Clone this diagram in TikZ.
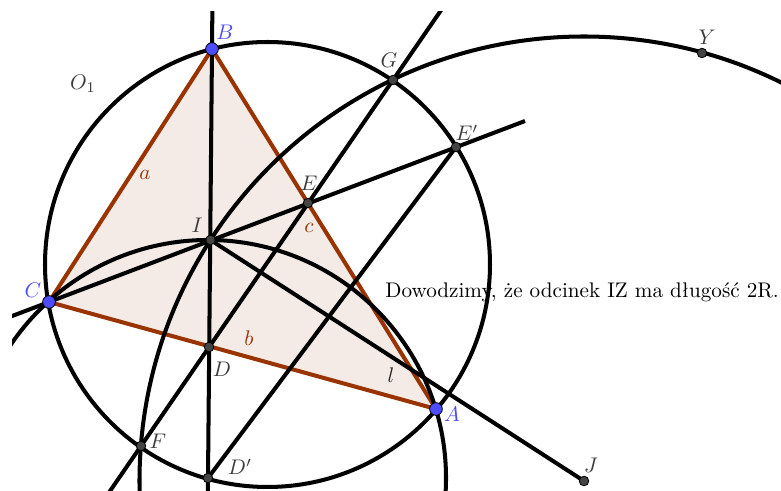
\documentclass[tikz,border=0pt]{standalone}
\usepackage{fontspec}
\usetikzlibrary{calc}
\definecolor{ggbrown}{RGB}{153,51,0}
\definecolor{trifill}{RGB}{244,235,230}
\definecolor{ggblue}{RGB}{77,77,255}
\definecolor{ptgray}{RGB}{68,68,68}
\definecolor{lblgray}{RGB}{60,60,60}
\begin{document}
\begin{tikzpicture}[x=0.4725pt,y=-0.4725pt,
  geo/.style={line width=1.9pt,black},
  tri/.style={line width=1.9pt,ggbrown,line join=round},
  dpt/.style={circle,fill=ptgray,draw=black,line width=0.4pt,inner sep=0pt,minimum size=4.5pt},
  bpt/.style={circle,fill=ggblue,draw=black,line width=0.4pt,inner sep=0pt,minimum size=6pt},
  lbl/.style={inner sep=0pt,text=lblgray,font=\fontsize{10}{12}\selectfont},
  blbl/.style={inner sep=0pt,text=ggblue,font=\fontsize{10}{12}\selectfont},
  rlbl/.style={inner sep=0pt,text=ggbrown,font=\fontsize{10}{12}\selectfont}]
\useasboundingbox (0,0) rectangle (781,491);
% points
\coordinate (A) at (436,409);
\coordinate (B) at (212,49);
\coordinate (C) at (49,302);
\coordinate (I) at (210.5,240);
\coordinate (E) at (308,203);
\coordinate (G) at (393,80);
\coordinate (Ep) at (456,147);
\coordinate (Y) at (702,53);
\coordinate (D) at (209,347);
\coordinate (F) at (141,446);
\coordinate (Dp) at (208,478);
\coordinate (J) at (584,481);
\coordinate (O) at (267.5,264.5);
\coordinate (K) at (525,121);
% triangle
\fill[trifill] (A) -- (B) -- (C) -- cycle;
\draw[tri] (A) -- (B) -- (C) -- cycle;
% text
\node[anchor=base west,inner sep=0pt,font=\fontsize{10}{12}\selectfont] (txt) at (385,298) {Dowodzimy, że odcinek IZ ma długość 2R.};
\begin{scope}
\clip (12,12) rectangle (781,491);
\draw[geo] ($(B)!-0.2!(Dp)$) -- ($(Dp)!-0.2!(B)$);
\draw[geo] ($(C)!-0.2!(K)$) -- (K);
\draw[geo] ($(F)!-0.3!(G)$) -- ($(G)!-0.3!(F)$);
\draw[geo] (I) -- (J);
\draw[geo] (Dp) -- (Ep);
\draw[geo] (O) circle[radius=105.13pt];
\draw[geo] (Dp) circle[radius=112.46pt];
\draw[geo] (J) circle[radius=210.03pt];
\end{scope}
% point markers
\foreach \p in {I,E,G,Ep,Y,D,F,Dp,J} \node[dpt] at (\p) {};
\foreach \p in {A,B,C} \node[bpt] at (\p) {};
% labels
\node[blbl] (lB) at (225,32) {$B$};
\node[blbl] (lC) at (33,290) {$C$};
\node[blbl] (lA) at (452,414) {$A$};
\node[lbl] (lO) at (83,84) {$O_1$};
\node[rlbl] (la) at (145,175) {$a$};
\node[rlbl] (lc) at (309,228) {$c$};
\node[rlbl] (lb) at (249,338) {$b$};
\node[lbl,text=black!85] (ll) at (391,375) {$l$};
\node[lbl] (lG) at (389,60) {$G$};
\node[lbl] (lE) at (309,183) {$E$};
\node[lbl] (lEp) at (467,133) {$E'$};
\node[lbl] (lI) at (197,225) {$I$};
\node[lbl] (lD) at (222,369) {$D$};
\node[lbl] (lF) at (158,441) {$F$};
\node[lbl] (lDp) at (240,467) {$D'$};
\node[lbl] (lY) at (707,37) {$Y$};
\node[lbl] (lJ) at (591,465) {$J$};
\end{tikzpicture}
\end{document}
